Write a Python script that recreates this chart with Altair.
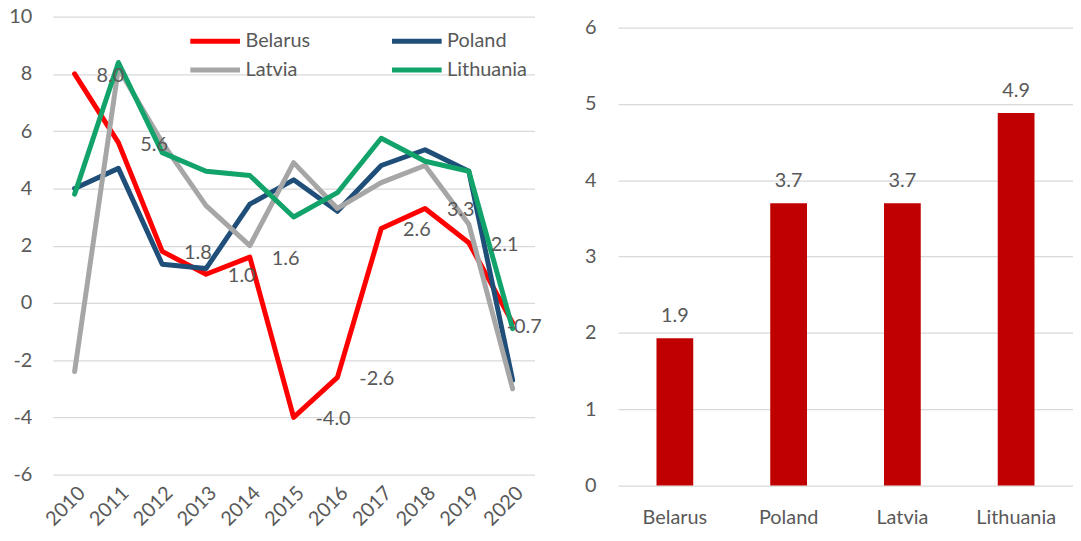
import altair as alt
import pandas as pd

years = [2010, 2011, 2012, 2013, 2014, 2015, 2016, 2017, 2018, 2019, 2020]
belarus = [8.0, 5.6, 1.8, 1.0, 1.6, -4.0, -2.6, 2.6, 3.3, 2.1, -0.7]
poland = [4.0, 4.7, 1.35, 1.2, 3.45, 4.3, 3.2, 4.8, 5.35, 4.6, -2.7]
latvia = [-2.4, 8.2, 5.6, 3.4, 2.0, 4.9, 3.3, 4.2, 4.8, 2.75, -3.0]
lithuania = [3.8, 8.4, 5.25, 4.6, 4.45, 3.0, 3.85, 5.75, 4.95, 4.6, -0.9]

countries = ["Belarus", "Poland", "Latvia", "Lithuania"]
line_colors = ["#FF0000", "#1F4E79", "#A6A6A6", "#12A36A"]
avg_growth = [1.93, 3.7, 3.7, 4.88]

FONT = "Lato"
TXT = "#595959"
FS = 20

series = {"Belarus": belarus, "Poland": poland, "Latvia": latvia, "Lithuania": lithuania}
rows = []
for order, c in enumerate(countries):
    for y, v in zip(years, series[c]):
        rows.append({"year": str(y), "country": c, "value": v, "ord": order})
df = pd.DataFrame(rows)

lab = pd.DataFrame({"year": [str(y) for y in years], "value": belarus,
                    "label": [f"{v:.1f}" for v in belarus]})
lab["last"] = lab["year"] == str(years[-1])

year_sort = [str(y) for y in years]
x_enc = alt.X("year:O", title=None, sort=year_sort,
              scale=alt.Scale(type="point", padding=0.5),
              axis=alt.Axis(labelAngle=-45, labelPadding=8, grid=False))
y_enc = alt.Y("value:Q", title=None,
              scale=alt.Scale(domain=[-6, 10], nice=False, zero=False),
              axis=alt.Axis(values=list(range(-6, 11, 2)), labelPadding=21,
                            labelExpr="datum.value + ''"))


def legend_row(lx, ly, pad):
    return alt.Legend(title=None, orient="none", legendX=lx, legendY=ly,
                      direction="horizontal", symbolType="stroke", symbolSize=2500,
                      symbolStrokeWidth=5, labelFont=FONT, labelFontSize=FS,
                      labelFontWeight="normal", labelColor=TXT, columnPadding=pad,
                      labelOffset=3)


def line_layer(names, cols, legend):
    return alt.Chart(df).transform_filter(
        alt.FieldOneOfPredicate(field="country", oneOf=names)
    ).mark_line(strokeWidth=5, strokeCap="round", strokeJoin="round").encode(
        x=x_enc, y=y_enc,
        color=alt.Color("country:N", sort=names,
                        scale=alt.Scale(domain=names, range=cols), legend=legend),
        detail="ord:O",
    )


lines_a = line_layer(countries[:2], line_colors[:2], legend_row(136, -3, 71))
lines_b = line_layer(countries[2:], line_colors[2:], legend_row(136, 26, 84))

txt_main = alt.Chart(lab).transform_filter("!datum.last").mark_text(
    align="left", baseline="middle", dx=22, dy=2, font=FONT, fontSize=FS, color=TXT
).encode(x=alt.X("year:O", sort=year_sort), y="value:Q", text="label:N")

txt_last = alt.Chart(lab).transform_filter("datum.last").mark_text(
    align="left", baseline="middle", dx=-6, dy=4, font=FONT, fontSize=FS, color=TXT
).encode(x=alt.X("year:O", sort=year_sort), y="value:Q", text="label:N")

left = alt.layer(lines_a, lines_b, txt_main, txt_last).resolve_scale(
    color="independent").properties(width=485, height=461)

bar_df = pd.DataFrame({"country": countries, "value": avg_growth,
                       "label": [f"{v:.1f}" for v in avg_growth]})

bx = alt.X("country:N", sort=countries, title=None,
           scale=alt.Scale(paddingInner=0, paddingOuter=0),
           axis=alt.Axis(labelAngle=0, labelPadding=22, grid=False))
by = alt.Y("value:Q", title=None, scale=alt.Scale(domain=[0, 6.143], nice=False),
           axis=alt.Axis(values=list(range(0, 7)), labelPadding=22, format="d"))

bars = alt.Chart(bar_df).mark_bar(size=37, color="#C00000").encode(x=bx, y=by)
bar_txt = alt.Chart(bar_df).mark_text(baseline="middle", dy=-22, font=FONT, fontSize=FS,
                                      color=TXT).encode(x=alt.X("country:N", sort=countries),
                                                        y="value:Q", text="label:N")
right = alt.layer(bars, bar_txt).properties(width=458, height=472)

chart = alt.hconcat(left, right, spacing=42).properties(
    padding={"left": 0, "top": -3, "right": 0, "bottom": 0}
).configure_view(stroke=None).configure_axis(
    domain=False, ticks=False, labelFont=FONT, labelFontSize=FS, labelColor=TXT,
    gridColor="#D9D9D9", gridWidth=1.3
)

chart.save("out.html", embed_options={"renderer": "svg", "actions": False})
